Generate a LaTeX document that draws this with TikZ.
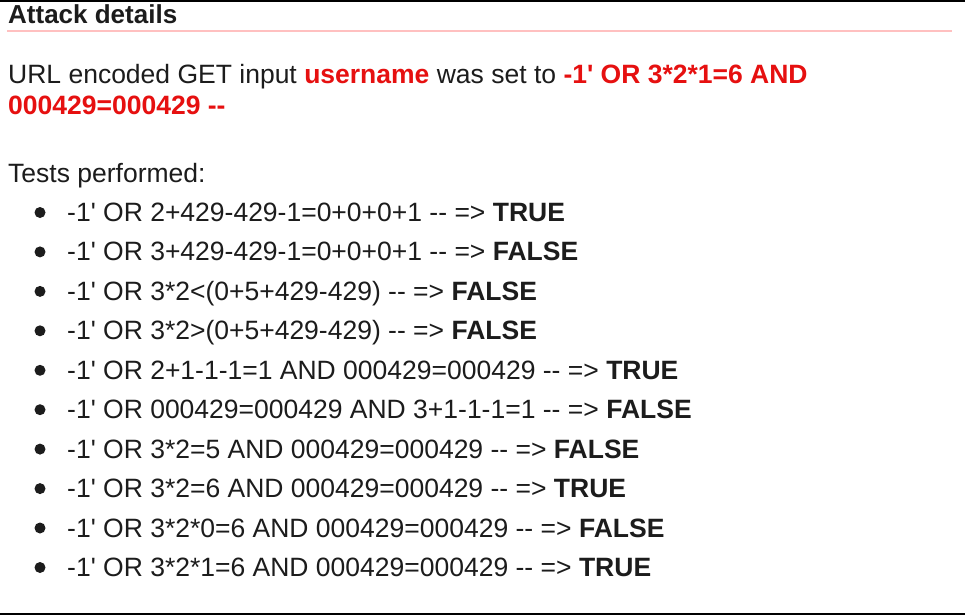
\documentclass[tikz,border=0pt]{standalone}
\usepackage{fontspec}
\newfontfamily\shotfont{Liberation Sans}
\definecolor{attackred}{RGB}{230,16,16}
\definecolor{rulepink}{RGB}{255,192,192}
\definecolor{shottext}{RGB}{28,28,28}
\tikzset{
	shot/.style={anchor=base west, inner sep=0pt, text=shottext, font=\shotfont\fontsize{26.5}{30}\selectfont},
	headline/.style={anchor=base west, inner sep=0pt, text=shottext, font=\shotfont\bfseries\fontsize{26}{30}\selectfont},
	dot/.style={fill=shottext},
}
\newcommand{\hit}[1]{\textcolor{attackred}{\bfseries #1}}
\begin{document}
\begin{tikzpicture}[x=1pt, y=-1pt]
				\useasboundingbox (0,0) rectangle (965,615);
				\fill[white] (0,0) rectangle (965,615);
				
				\fill[black] (0,0) rectangle (965,2);
				\fill[black] (0,612.5) rectangle (965,614.5);
				
				\node[headline] (head) at (8,24) {Attack details};
				\draw[rulepink, line width=2pt] (7,31) -- (952,31);
				
				\node[shot] (inputline) at (8,83.5) {URL encoded GET input \hit{username} was set to \hit{-1' OR 3*2*1=6 AND}};
				\node[shot] (inputtail) at (8,114.5) {\hit{000429=000429 --}};
				
				\node[shot] (tests) at (8,182) {Tests performed:};
				
				\node[shot] (test1) at (67,221.5) {-1' OR 2+429-429-1=0+0+0+1 -- => \textbf{TRUE}};
				\node[shot] (test2) at (67,260.9) {-1' OR 3+429-429-1=0+0+0+1 -- => \textbf{FALSE}};
				\node[shot] (test3) at (67,300.4) {-1' OR 3*2<(0+5+429-429) -- => \textbf{FALSE}};
				\node[shot] (test4) at (67,339.8) {-1' OR 3*2>(0+5+429-429) -- => \textbf{FALSE}};
				\node[shot] (test5) at (67,379.3) {-1' OR 2+1-1-1=1 AND 000429=000429 -- => \textbf{TRUE}};
				\node[shot] (test6) at (67,418.7) {-1' OR 000429=000429 AND 3+1-1-1=1 -- => \textbf{FALSE}};
				\node[shot] (test7) at (67,458.1) {-1' OR 3*2=5 AND 000429=000429 -- => \textbf{FALSE}};
				\node[shot] (test8) at (67,497.6) {-1' OR 3*2=6 AND 000429=000429 -- => \textbf{TRUE}};
				\node[shot] (test9) at (67,537.0) {-1' OR 3*2*0=6 AND 000429=000429 -- => \textbf{FALSE}};
				\node[shot] (test10) at (67,576.5) {-1' OR 3*2*1=6 AND 000429=000429 -- => \textbf{TRUE}};
				
				\fill[dot] (40,212.5) circle (5.5);
				\fill[dot] (40,251.9) circle (5.5);
				\fill[dot] (40,291.4) circle (5.5);
				\fill[dot] (40,330.8) circle (5.5);
				\fill[dot] (40,370.3) circle (5.5);
				\fill[dot] (40,409.7) circle (5.5);
				\fill[dot] (40,449.1) circle (5.5);
				\fill[dot] (40,488.6) circle (5.5);
				\fill[dot] (40,528.0) circle (5.5);
				\fill[dot] (40,567.5) circle (5.5);
			\end{tikzpicture}
\end{document}
